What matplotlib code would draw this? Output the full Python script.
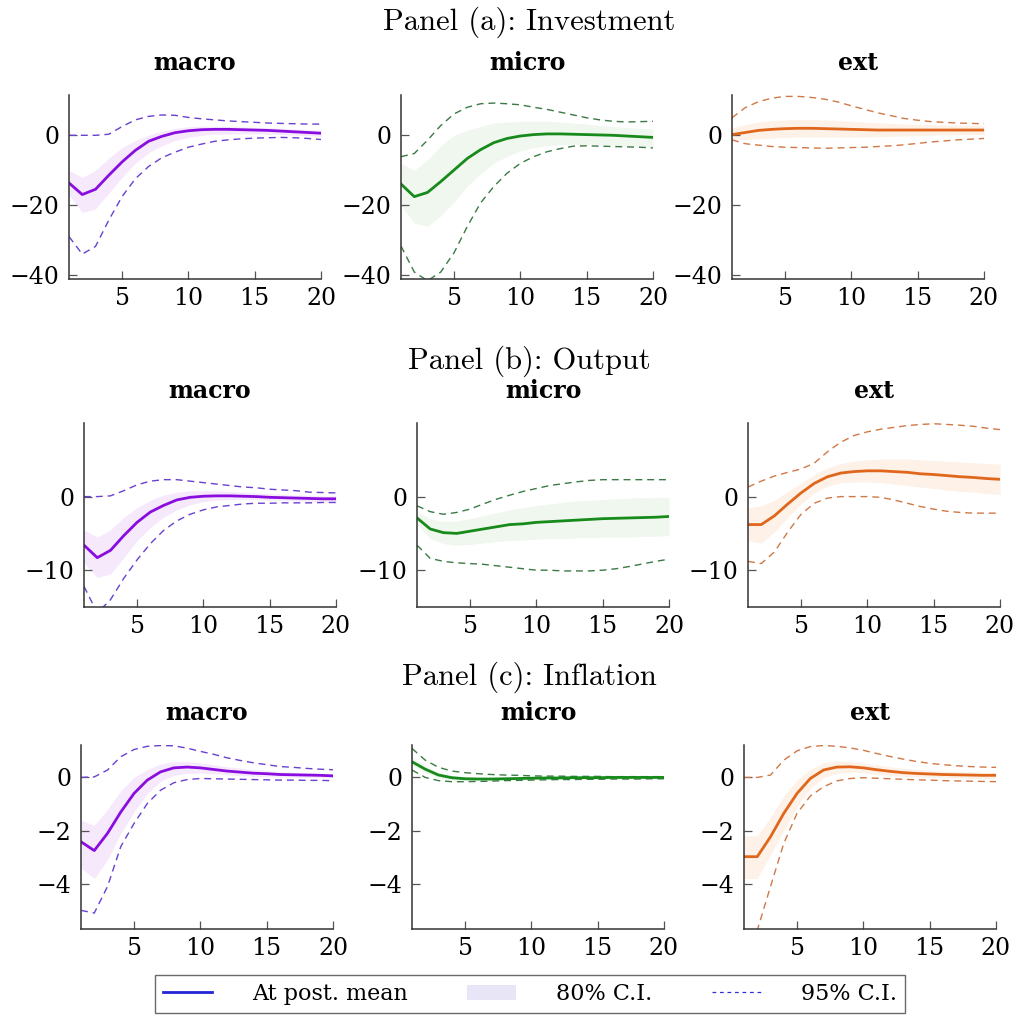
import numpy as np
import matplotlib
matplotlib.use("Agg")
from matplotlib import pyplot as plt
from matplotlib.lines import Line2D
from matplotlib.patches import Patch

periods = list(range(1, 21))

# Panel (a): Investment
inv_macro_mean = [-13.6, -16.9, -15.4, -11.4, -7.6, -4.3, -1.7, -0.3, 0.75, 1.3, 1.6, 1.7, 1.7, 1.6, 1.5, 1.4, 1.2, 1.0, 0.8, 0.6]
inv_macro_hi95 = [0, 0, 0, 0.3, 2.5, 4.4, 5.4, 5.8, 5.7, 5.1, 4.7, 4.4, 4.1, 3.9, 3.7, 3.5, 3.4, 3.3, 3.2, 3.2]
inv_macro_lo95 = [-28.9, -33.9, -31.7, -24.2, -17.5, -12.4, -8.9, -6.4, -4.8, -3.4, -2.5, -1.7, -1.3, -1.0, -0.8, -0.7, -0.6, -0.7, -0.9, -1.2]
inv_macro_hi80 = [-10, -12, -10, -6.5, -3.5, -1.5, 0, 1.2, 2, 2.4, 2.6, 2.6, 2.5, 2.4, 2.3, 2.1, 2.0, 1.8, 1.6, 1.5]
inv_macro_lo80 = [-17, -22, -21, -16.5, -12, -8, -5, -3, -1.5, -0.6, 0, 0.3, 0.4, 0.4, 0.4, 0.3, 0.2, 0.1, -0.1, -0.3]

inv_micro_mean = [-13.9, -17.5, -16.3, -13.2, -9.9, -6.6, -4.1, -2.1, -0.9, -0.2, 0.2, 0.4, 0.4, 0.3, 0.2, 0.1, 0, -0.2, -0.4, -0.6]
inv_micro_hi95 = [-6.1, -5.2, -1.4, 2.8, 6.1, 8.0, 9.0, 9.2, 9.0, 8.7, 8.0, 7.4, 6.6, 5.8, 5.0, 4.4, 4.0, 3.8, 3.9, 4.0]
inv_micro_lo95 = [-31.6, -39, -41.5, -39, -33.5, -26, -19.3, -14.6, -10.8, -8.0, -6.1, -4.7, -3.8, -3.1, -3.0, -3.1, -3.2, -3.3, -3.4, -3.6]
inv_micro_hi80 = [-8, -10, -7, -3, 0, 1.5, 2.5, 3.5, 3.8, 4, 4, 4, 3.8, 3.5, 3.2, 2.8, 2.5, 2.2, 2, 1.8]
inv_micro_lo80 = [-20, -25, -26, -23, -19, -14.5, -11, -8, -6, -4.5, -3.5, -3, -2.7, -2.6, -2.6, -2.7, -2.8, -3, -3.1, -3.2]

inv_ext_mean = [0.2, 0.8, 1.4, 1.7, 1.9, 2.0, 2.0, 1.9, 1.8, 1.7, 1.6, 1.5, 1.5, 1.5, 1.5, 1.5, 1.5, 1.5, 1.5, 1.5]
inv_ext_hi95 = [5, 7.9, 9.6, 10.6, 11.1, 11.1, 10.8, 10.3, 9.5, 8.4, 7.4, 6.4, 5.6, 4.8, 4.3, 3.9, 3.7, 3.5, 3.4, 3.3]
inv_ext_lo95 = [-1.3, -2.4, -2.8, -3.2, -3.4, -3.5, -3.6, -3.7, -3.6, -3.5, -3.4, -3.2, -3.0, -2.7, -2.3, -1.9, -1.6, -1.3, -1.1, -0.9]
inv_ext_hi80 = [2.2, 3.0, 3.8, 4.2, 4.4, 4.5, 4.5, 4.4, 4.2, 4.0, 3.8, 3.6, 3.4, 3.2, 3.1, 3.0, 2.9, 2.9, 2.8, 2.8]
inv_ext_lo80 = [-1.0, -1.2, -1.0, -0.8, -0.6, -0.5, -0.5, -0.5, -0.5, -0.5, -0.5, -0.4, -0.3, -0.2, -0.1, 0, 0.1, 0.2, 0.2, 0.2]

# Panel (b): Output
out_macro_mean = [-6.6, -8.3, -7.3, -5.3, -3.5, -2.1, -1.2, -0.45, -0.1, 0.05, 0.1, 0.1, 0.05, 0, -0.1, -0.15, -0.2, -0.25, -0.3, -0.3]
out_macro_hi95 = [0, 0, 0.1, 0.8, 1.6, 2.1, 2.3, 2.3, 2.1, 1.9, 1.7, 1.5, 1.3, 1.2, 1.0, 0.9, 0.8, 0.6, 0.55, 0.5]
out_macro_lo95 = [-12.2, -15.8, -14, -11.1, -8.6, -6.4, -4.6, -3.3, -2.4, -1.8, -1.4, -1.2, -1.0, -0.9, -0.9, -0.85, -0.85, -0.85, -0.8, -0.8]
out_macro_hi80 = [-4.5, -5.5, -4.5, -2.8, -1.5, -0.5, 0.2, 0.6, 0.8, 0.8, 0.8, 0.7, 0.6, 0.5, 0.4, 0.3, 0.2, 0.2, 0.1, 0.1]
out_macro_lo80 = [-9, -11, -10.5, -8.3, -6, -4.2, -2.8, -1.8, -1.1, -0.7, -0.5, -0.4, -0.4, -0.4, -0.5, -0.5, -0.6, -0.6, -0.7, -0.7]

out_micro_mean = [-2.9, -4.4, -4.9, -5.0, -4.7, -4.4, -4.1, -3.8, -3.7, -3.5, -3.4, -3.3, -3.2, -3.1, -3.0, -2.95, -2.9, -2.85, -2.8, -2.7]
out_micro_hi95 = [-1.25, -2.05, -2.4, -2.15, -1.7, -1.0, -0.35, 0.2, 0.7, 1.1, 1.5, 1.75, 2.0, 2.2, 2.3, 2.3, 2.3, 2.3, 2.3, 2.3]
out_micro_lo95 = [-6.6, -8.4, -8.8, -9.0, -9.1, -9.2, -9.4, -9.6, -9.8, -10.0, -10.0, -10.1, -10.1, -10.1, -10.0, -9.8, -9.5, -9.15, -8.8, -8.5]
out_micro_hi80 = [-2, -3, -3.4, -3.3, -3, -2.6, -2.2, -1.8, -1.5, -1.2, -1, -0.8, -0.6, -0.5, -0.4, -0.3, -0.2, -0.15, -0.1, -0.1]
out_micro_lo80 = [-3.8, -5.7, -6.4, -6.6, -6.5, -6.3, -6.1, -6, -5.9, -5.8, -5.7, -5.7, -5.6, -5.6, -5.5, -5.5, -5.5, -5.4, -5.4, -5.3]

out_ext_mean = [-3.8, -3.8, -2.6, -1.0, 0.5, 1.8, 2.7, 3.2, 3.4, 3.5, 3.5, 3.4, 3.3, 3.1, 3.0, 2.85, 2.7, 2.6, 2.45, 2.35]
out_ext_hi95 = [1.3, 2.1, 2.8, 3.3, 3.75, 4.55, 6.1, 7.4, 8.3, 8.8, 9.15, 9.4, 9.65, 9.8, 9.9, 9.8, 9.7, 9.55, 9.3, 9.1]
out_ext_lo95 = [-8.8, -9.1, -7.5, -4.8, -2.4, -0.9, -0.2, 0, 0, 0, -0.1, -0.45, -0.9, -1.35, -1.7, -2.0, -2.15, -2.25, -2.25, -2.25]
out_ext_hi80 = [-1.5, -1.3, -0.5, 0.7, 1.8, 3, 3.9, 4.5, 4.8, 5, 5.1, 5.1, 5.1, 5, 4.9, 4.8, 4.7, 4.6, 4.5, 4.4]
out_ext_lo80 = [-6, -6.3, -4.8, -2.8, -1, 0.5, 1.4, 1.9, 2, 2, 1.9, 1.7, 1.5, 1.3, 1.1, 0.9, 0.7, 0.6, 0.4, 0.3]

# Panel (c): Inflation
inf_macro_mean = [-2.42, -2.75, -2.1, -1.3, -0.6, -0.1, 0.21, 0.36, 0.39, 0.36, 0.3, 0.24, 0.2, 0.16, 0.14, 0.11, 0.1, 0.09, 0.08, 0.06]
inf_macro_hi95 = [0, 0.02, 0.28, 0.78, 1.05, 1.17, 1.2, 1.19, 1.1, 0.98, 0.87, 0.74, 0.64, 0.55, 0.48, 0.41, 0.38, 0.34, 0.31, 0.29]
inf_macro_lo95 = [-5.0, -5.1, -4.1, -2.6, -1.73, -0.98, -0.48, -0.2, -0.08, -0.04, -0.05, -0.06, -0.07, -0.08, -0.09, -0.1, -0.1, -0.11, -0.11, -0.12]
inf_macro_hi80 = [-1.6, -1.8, -1.2, -0.5, 0, 0.3, 0.5, 0.6, 0.6, 0.55, 0.48, 0.4, 0.35, 0.3, 0.26, 0.22, 0.2, 0.18, 0.16, 0.14]
inf_macro_lo80 = [-3.4, -3.8, -3.1, -2.1, -1.3, -0.6, -0.15, 0.08, 0.15, 0.17, 0.14, 0.1, 0.07, 0.04, 0.03, 0.02, 0.01, 0, 0, -0.01]

inf_micro_mean = [0.59, 0.31, 0.09, -0.01, -0.05, -0.06, -0.06, -0.05, -0.04, -0.03, -0.02, -0.02, -0.01, -0.01, -0.01, 0, 0, 0, 0, 0]
inf_micro_hi95 = [1.09, 0.65, 0.38, 0.24, 0.18, 0.14, 0.11, 0.09, 0.08, 0.06, 0.05, 0.05, 0.04, 0.04, 0.04, 0.03, 0.03, 0.03, 0.03, 0.03]
inf_micro_lo95 = [0.28, 0, -0.12, -0.16, -0.16, -0.15, -0.14, -0.12, -0.11, -0.1, -0.09, -0.08, -0.08, -0.07, -0.07, -0.06, -0.06, -0.06, -0.05, -0.05]
inf_micro_hi80 = [0.75, 0.45, 0.2, 0.08, 0.04, 0.02, 0.01, 0.01, 0.01, 0.01, 0.01, 0.01, 0.01, 0.01, 0.01, 0.01, 0.01, 0.01, 0.01, 0.01]
inf_micro_lo80 = [0.45, 0.18, -0.02, -0.1, -0.12, -0.12, -0.11, -0.1, -0.09, -0.08, -0.06, -0.05, -0.04, -0.04, -0.03, -0.03, -0.02, -0.02, -0.02, -0.02]

inf_ext_mean = [-2.98, -2.98, -2.23, -1.35, -0.6, -0.04, 0.28, 0.39, 0.4, 0.36, 0.29, 0.23, 0.18, 0.15, 0.13, 0.11, 0.1, 0.09, 0.08, 0.08]
inf_ext_hi95 = [0, 0, 0.09, 0.65, 1.0, 1.16, 1.2, 1.17, 1.11, 1.02, 0.9, 0.79, 0.69, 0.6, 0.53, 0.48, 0.44, 0.41, 0.39, 0.38]
inf_ext_lo95 = [-7.5, -5.75, -4.1, -2.48, -1.35, -0.7, -0.35, -0.13, -0.04, -0.01, -0.03, -0.05, -0.07, -0.09, -0.1, -0.12, -0.13, -0.14, -0.15, -0.16]
inf_ext_hi80 = [-2.2, -2.2, -1.5, -0.7, -0.1, 0.3, 0.55, 0.62, 0.6, 0.55, 0.47, 0.4, 0.34, 0.3, 0.27, 0.24, 0.22, 0.21, 0.2, 0.19]
inf_ext_lo80 = [-3.8, -3.8, -2.9, -2.0, -1.1, -0.4, 0, 0.15, 0.2, 0.18, 0.12, 0.08, 0.04, 0.02, 0, -0.01, -0.02, -0.03, -0.04, -0.04]

panel_titles = ["Panel (a): Investment", "Panel (b): Output", "Panel (c): Inflation"]
model_names = ["macro", "micro", "ext"]
row_yticks = [[-40, -20, 0], [-10, 0], [-4, -2, 0]]
row_ylims = [(-41, 11.5), (-15, 10), (-5.7, 1.22)]

series = [
    [(inv_macro_mean, inv_macro_lo80, inv_macro_hi80, inv_macro_lo95, inv_macro_hi95),
     (inv_micro_mean, inv_micro_lo80, inv_micro_hi80, inv_micro_lo95, inv_micro_hi95),
     (inv_ext_mean, inv_ext_lo80, inv_ext_hi80, inv_ext_lo95, inv_ext_hi95)],
    [(out_macro_mean, out_macro_lo80, out_macro_hi80, out_macro_lo95, out_macro_hi95),
     (out_micro_mean, out_micro_lo80, out_micro_hi80, out_micro_lo95, out_micro_hi95),
     (out_ext_mean, out_ext_lo80, out_ext_hi80, out_ext_lo95, out_ext_hi95)],
    [(inf_macro_mean, inf_macro_lo80, inf_macro_hi80, inf_macro_lo95, inf_macro_hi95),
     (inf_micro_mean, inf_micro_lo80, inf_micro_hi80, inf_micro_lo95, inf_micro_hi95),
     (inf_ext_mean, inf_ext_lo80, inf_ext_hi80, inf_ext_lo95, inf_ext_hi95)],
]

# styles per model: mean line, dashed band edge, 80% fill
line_colors = ["#8a0de0", "#168a1a", "#e0661c"]
dash_colors = ["#6a40d0", "#3a7a45", "#d07848"]
fill_colors = ["#f6e9fb", "#f0f7ee", "#fdf1e8"]

W, H = 1015, 1021
ax_w, ax_h = 252, 184
row_tops = [95, 423, 745]
row_lefts = [[69, 401, 732], [84, 417, 748], [81, 412, 744]]
panel_y = [22, 361, 677]

plt.rcParams['font.family'] = ['DejaVu Serif']
fig = plt.figure(figsize=(W / 100, H / 100), dpi=100)

for r in range(3):
    fig.text(529 / W, 1 - panel_y[r] / H, panel_titles[r], family='cmr10',
             fontsize=22, ha='center', va='center')
    for c in range(3):
        mean, lo80, hi80, lo95, hi95 = series[r][c]
        left = row_lefts[r][c]
        ax = fig.add_axes([left / W, 1 - (row_tops[r] + ax_h) / H, ax_w / W, ax_h / H])
        ax.fill_between(periods, lo80, hi80, color=fill_colors[c], lw=0)
        ax.plot(periods, hi95, ls=(0, (5, 3.5)), color=dash_colors[c], lw=1.0)
        ax.plot(periods, lo95, ls=(0, (5, 3.5)), color=dash_colors[c], lw=1.0)
        ax.plot(periods, mean, color=line_colors[c], lw=2.0)
        ax.set_xlim(1, 20)
        ax.set_ylim(*row_ylims[r])
        ax.set_xticks([5, 10, 15, 20])
        ax.set_yticks(row_yticks[r])
        ax.set_yticklabels(['\u2212%d' % -v if v < 0 else '%d' % v for v in row_yticks[r]])
        for s in ['top', 'right']:
            ax.spines[s].set_visible(False)
        for s in ['left', 'bottom']:
            ax.spines[s].set_color('#333333')
            ax.spines[s].set_linewidth(1.1)
        ax.tick_params(direction='in', length=6, width=0.9, color='#555555',
                       labelsize=17, pad=6)
        ax.tick_params(axis='y', pad=7)
        ax.set_title(model_names[c], fontsize=17, fontweight='bold', pad=18)

handles = [Line2D([], [], color='#2424d8', lw=2),
           Patch(facecolor='#e8e6f6', edgecolor='none'),
           Line2D([], [], color='#3030d8', lw=0.9, ls=(0, (3, 3)))]
labels = ["At post. mean", "80% C.I.", "95% C.I."]
leg = fig.legend(handles, labels, loc='lower left',
                 bbox_to_anchor=(155 / W, 1 - 1013 / H, 750 / W, 43 / H),
                 mode='expand', ncol=3, fontsize=16, frameon=True, fancybox=False,
                 handlelength=2.2, handletextpad=1.8, columnspacing=2.0,
                 borderaxespad=0, borderpad=0.35)
leg.get_frame().set_edgecolor('#444444')
leg.get_frame().set_linewidth(1.0)

fig.savefig('out.png', dpi=100)
